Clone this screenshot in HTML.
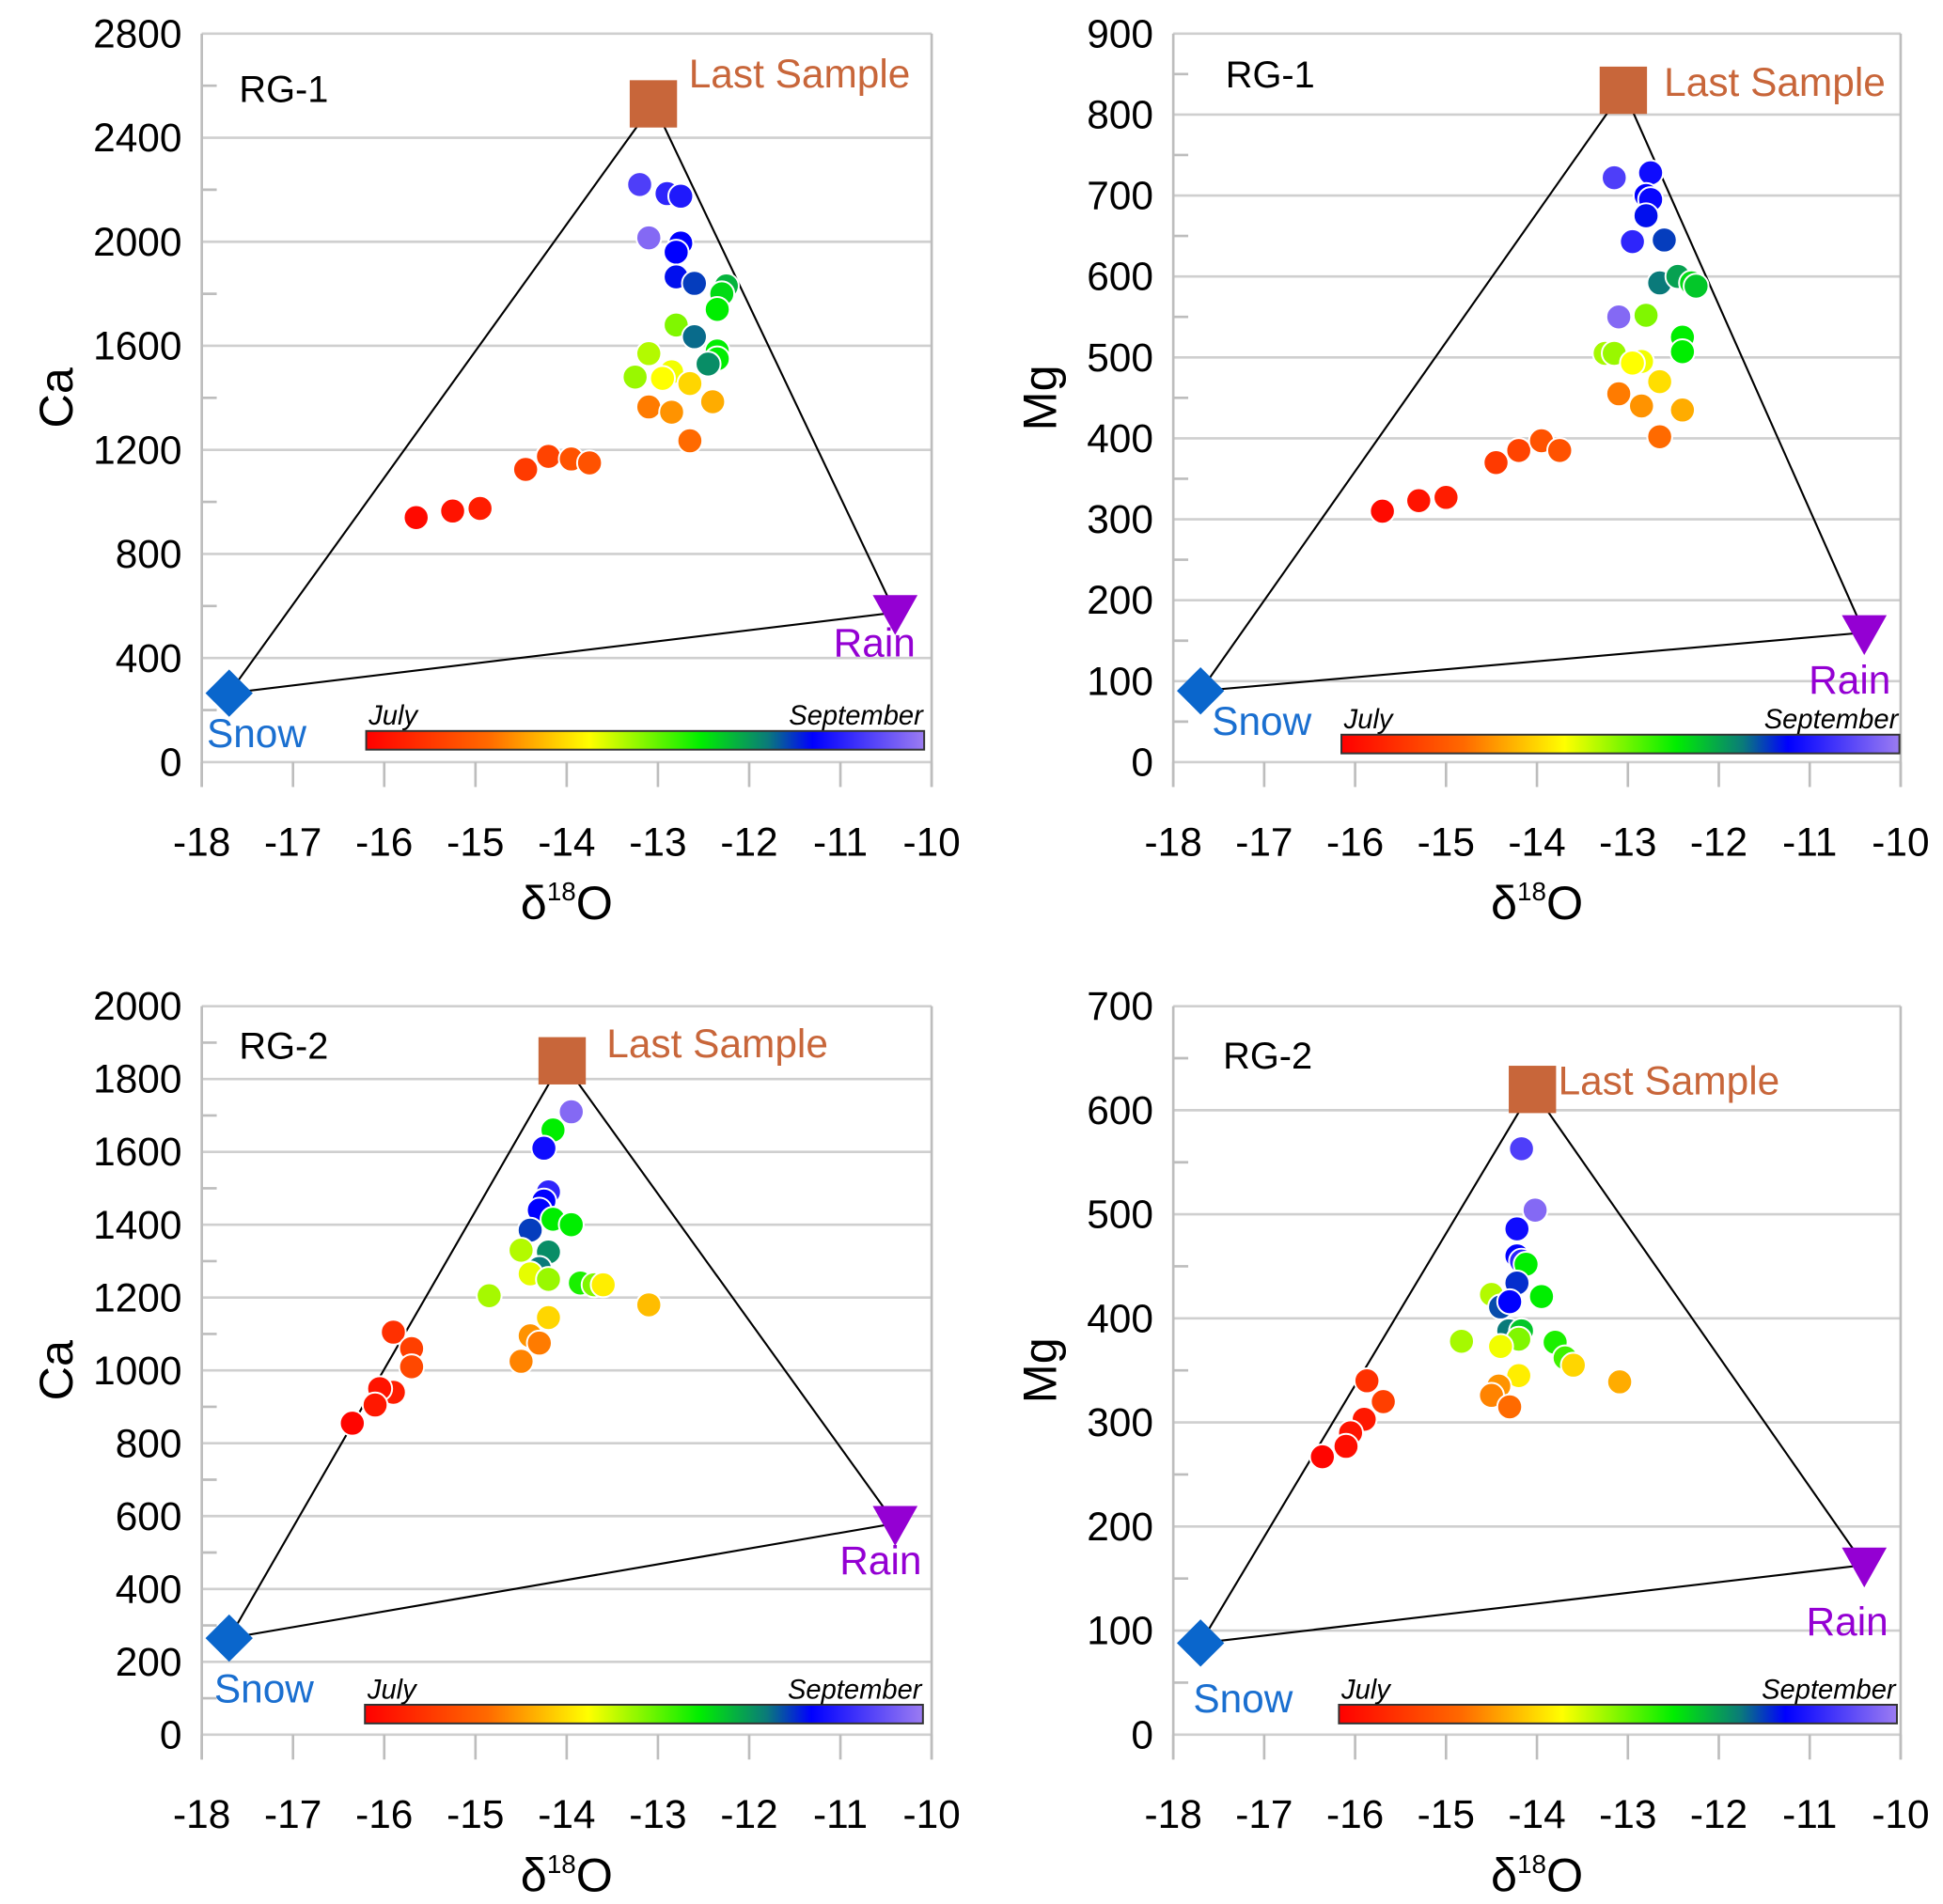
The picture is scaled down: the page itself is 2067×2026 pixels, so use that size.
<!DOCTYPE html>
<html><head><meta charset="utf-8"><style>
html,body{margin:0;padding:0;background:#fff;}
svg{display:block;font-family:"Liberation Sans","DejaVu Sans",sans-serif;}
</style></head><body>
<svg id="fig" width="2067" height="2026" viewBox="0 0 1560 1529" preserveAspectRatio="none" xmlns="http://www.w3.org/2000/svg">
<defs>
<linearGradient id="cmap" x1="0" x2="1" y1="0" y2="0">
<stop offset="0" stop-color="#ff0000"/><stop offset="0.22" stop-color="#ff6a00"/><stop offset="0.4" stop-color="#ffff00"/><stop offset="0.6" stop-color="#00ee00"/><stop offset="0.72" stop-color="#0a7a7a"/><stop offset="0.8" stop-color="#0000ff"/><stop offset="1" stop-color="#9b7cf2"/>
</linearGradient>
</defs>
</svg>
<script>
// Panel 1: RG-1 Ca
const p1X=[-13.2,-12.9,-12.75,-13.1,-12.75,-12.8,-12.8,-12.6,-12.25,-12.3,-12.35,-12.8,-12.6,-12.35,-12.35,-12.45,-13.1,-13.25,-12.85,-12.95,-12.65,-12.4,-13.1,-12.85,-12.65,-14.45,-14.2,-13.95,-13.75,-15.65,-15.25,-14.95];
const p1Y=[2220,2185,2175,2015,1995,1960,1865,1840,1830,1800,1740,1680,1635,1580,1550,1530,1570,1480,1500,1475,1455,1385,1365,1345,1235,1125,1175,1165,1150,940,965,975];
const p1T=[0.9,0.86,0.84,0.97,0.8,0.8,0.79,0.76,0.66,0.62,0.6,0.5,0.73,0.6,0.6,0.7,0.46,0.48,0.41,0.4,0.35,0.3,0.24,0.27,0.22,0.12,0.14,0.17,0.17,0.02,0.04,0.06];
// Panel 2: RG-1 Mg
const p2X=[-13.15,-12.75,-12.8,-12.75,-12.8,-12.6,-12.95,-12.65,-12.45,-12.3,-12.25,-12.8,-13.1,-12.4,-12.4,-13.25,-13.15,-12.85,-12.95,-12.65,-13.1,-12.4,-12.85,-12.65,-14.45,-14.2,-13.95,-13.75,-15.7,-15.3,-15.0];
const p2Y=[722,728,700,695,675,645,643,592,600,592,588,552,550,525,507,505,505,495,493,470,455,435,440,402,370,385,397,385,310,323,327];
const p2T=[0.9,0.82,0.8,0.81,0.79,0.76,0.86,0.72,0.68,0.62,0.64,0.5,0.97,0.6,0.6,0.47,0.48,0.41,0.4,0.36,0.24,0.3,0.27,0.22,0.12,0.14,0.17,0.17,0.02,0.04,0.06];
// Panel 3: RG-2 Ca
const p3X=[-13.95,-14.15,-14.25,-14.2,-14.25,-14.3,-14.4,-14.15,-13.95,-14.2,-14.5,-14.3,-14.4,-14.2,-13.85,-13.7,-13.6,-14.85,-13.1,-14.2,-14.4,-14.3,-14.5,-15.9,-15.7,-15.7,-15.9,-16.05,-16.1,-16.35];
const p3Y=[1710,1660,1610,1490,1465,1440,1385,1415,1400,1325,1330,1280,1265,1250,1240,1235,1235,1205,1180,1145,1095,1075,1025,1105,1060,1010,940,950,905,855];
const p3T=[0.97,0.6,0.82,0.86,0.8,0.8,0.76,0.6,0.6,0.7,0.46,0.72,0.42,0.48,0.58,0.5,0.38,0.47,0.32,0.35,0.27,0.24,0.25,0.1,0.13,0.15,0.06,0.04,0.05,0.01];
// Panel 4: RG-2 Mg
const p4X=[-14.17,-14.02,-14.22,-14.22,-14.17,-14.12,-14.22,-14.5,-13.95,-14.4,-14.3,-14.31,-14.17,-14.2,-14.83,-14.4,-13.8,-13.69,-13.6,-13.09,-14.2,-14.42,-14.5,-14.3,-15.87,-15.69,-15.9,-16.05,-16.1,-16.36];
const p4Y=[563,504,486,460,455,452,434,423,421,411,416,388,388,380,378,373,377,362,355,339,345,335,326,315,340,320,303,290,277,267];
const p4T=[0.9,0.97,0.82,0.8,0.86,0.6,0.77,0.46,0.6,0.75,0.8,0.72,0.64,0.5,0.47,0.41,0.58,0.55,0.35,0.3,0.38,0.27,0.25,0.22,0.1,0.13,0.05,0.04,0.03,0.01];
// End members [snow, last, rain]
const endX1=[-17.7,-13.05,-10.4], endY1=[265,2530,575];
const endX2=[-17.7,-13.05,-10.4], endY2=[88,830,160];
const endX3=[-17.7,-14.05,-10.4], endY3=[265,1850,580];
const endX4=[-17.7,-14.05,-10.4], endY4=[88,620,163];
const xTicks=[-18,-17,-16,-15,-14,-13,-12,-11,-10];

const NS="http://www.w3.org/2000/svg";
const svg=document.getElementById('fig');
function mk(tag,attrs,parent){const e=document.createElementNS(NS,tag);for(const k in attrs)e.setAttribute(k,attrs[k]);(parent||svg).appendChild(e);return e;}
const stops=[[0,[255,0,0]],[0.22,[255,106,0]],[0.4,[255,255,0]],[0.6,[0,238,0]],[0.72,[10,122,122]],[0.8,[0,0,255]],[1,[155,124,242]]];
function cmap(t){for(let i=1;i<stops.length;i++){if(t<=stops[i][0]){const a=stops[i-1],b=stops[i];const f=(t-a[0])/(b[0]-a[0]);const c=a[1].map((v,j)=>Math.round(v+(b[1][j]-v)*f));return `rgb(${c})`;}}return 'rgb(155,124,242)';}

const panels=[
 {L:162,R:748,T:27,B:612,ymax:2800,ystep:400,ylab:'Ca',tag:'RG-1',xs:p1X,ys:p1Y,ts:p1T,ex:endX1,ey:endY1,tagPos:[192,82],lsPos:[553,70],rainPos:[735,527],snowPos:[166,600],cb:[294,587],ylabX:45,name:'rg1-ca'},
 {L:942,R:1526,T:27,B:612,ymax:900,ystep:100,ylab:'Mg',tag:'RG-1',xs:p2X,ys:p2Y,ts:p2T,ex:endX2,ey:endY2,tagPos:[984,70],lsPos:[1336,77],rainPos:[1518,557],snowPos:[973,590],cb:[1077,590],ylabX:835,name:'rg1-mg'},
 {L:162,R:748,T:808,B:1393,ymax:2000,ystep:200,ylab:'Ca',tag:'RG-2',xs:p3X,ys:p3Y,ts:p3T,ex:endX3,ey:endY3,tagPos:[192,850],lsPos:[487,849],rainPos:[740,1264],snowPos:[172,1367],cb:[293,1369],ylabX:45,name:'rg2-ca'},
 {L:942,R:1526,T:808,B:1393,ymax:700,ystep:100,ylab:'Mg',tag:'RG-2',xs:p4X,ys:p4Y,ts:p4T,ex:endX4,ey:endY4,tagPos:[982,858],lsPos:[1251,879],rainPos:[1516,1313],snowPos:[958,1375],cb:[1075,1369],ylabX:835,name:'rg2-mg'}
];

panels.forEach(p=>{
 const g=mk('g',{});
 
 
 const sx=v=>p.L+(v+18)/8*(p.R-p.L);
 const sy=v=>p.B-v/p.ymax*(p.B-p.T);
 for(let v=0;v<=p.ymax+1e-9;v+=p.ystep){
  const y=sy(v);
  const gl=mk('line',{x1:p.L,x2:p.R,y1:y,y2:y,stroke:'#cfcfcf','stroke-width':2},g);
  
  
  const t=mk('text',{x:p.L-16,y:y+11,'text-anchor':'end','font-size':32,fill:'#000'},g);
  t.textContent=v;
  
  
  if(v<p.ymax){const ym=sy(v+p.ystep/2);mk('line',{x1:p.L,x2:p.L+12,y1:ym,y2:ym,stroke:'#bdbdbd','stroke-width':2},g);}
 }
 mk('line',{x1:p.L,x2:p.L,y1:p.T,y2:p.B+20,stroke:'#bdbdbd','stroke-width':2},g);
 mk('line',{x1:p.R,x2:p.R,y1:p.T,y2:p.B+20,stroke:'#bdbdbd','stroke-width':2},g);
 xTicks.forEach(v=>{
  const x=sx(v);
  mk('line',{x1:x,x2:x,y1:p.B,y2:p.B+20,stroke:'#bdbdbd','stroke-width':2},g);
  const t=mk('text',{x:x,y:p.B+75,'text-anchor':'middle','font-size':32,fill:'#000'},g);
  t.textContent=v;
  
  
 });
 const yt=mk('text',{x:p.ylabX,y:(p.T+p.B)/2,'text-anchor':'middle','font-size':38,transform:`rotate(-90 ${p.ylabX} ${(p.T+p.B)/2}) translate(0 13)`},g);
 yt.textContent=p.ylab;
 
 
 const xt=mk('text',{x:(p.L+p.R)/2,y:p.B+126,'text-anchor':'middle','font-size':38},g);
 xt.innerHTML='δ<tspan font-size="21" dy="-15">18</tspan><tspan dy="15">O</tspan>';
 
 
 const tg=mk('text',{x:p.tagPos[0],y:p.tagPos[1],'font-size':30},g);
 tg.textContent=p.tag;
 
 
 const cb=mk('rect',{x:p.cb[0],y:p.cb[1],width:448,height:15,fill:'url(#cmap)',stroke:'#333','stroke-width':1.5},g);
 
 
 const jl=mk('text',{x:p.cb[0]+2,y:p.cb[1]-5,'font-size':22,'font-style':'italic'},g);
 jl.textContent='July';
 
 
 const sl=mk('text',{x:p.cb[0]+447,y:p.cb[1]-5,'font-size':22,'font-style':'italic','text-anchor':'end'},g);
 sl.textContent='September';
 
 
 const px=p.ex.map(sx), py=p.ey.map(sy);
 const tri=mk('polygon',{points:`${px[0]},${py[0]} ${px[1]},${py[1]} ${px[2]},${py[2]}`,fill:'none',stroke:'#000','stroke-width':1.6},g);
 
 
 p.xs.forEach((v,i)=>{
  const c=mk('circle',{cx:sx(v),cy:sy(p.ys[i]),r:10,fill:cmap(p.ts[i]),stroke:'#fff','stroke-width':1.5},g);
  
  
 });
 const d=mk('polygon',{points:`${px[0]},${py[0]-19} ${px[0]+19},${py[0]} ${px[0]},${py[0]+19} ${px[0]-19},${py[0]}`,fill:'#0a66cc'},g);
 
 
 const s=mk('rect',{x:px[1]-19,y:py[1]-19,width:38,height:38,fill:'#c8663a'},g);
 
 
 const r=mk('polygon',{points:`${px[2]-18},${py[2]-14} ${px[2]+18},${py[2]-14} ${px[2]},${py[2]+18}`,fill:'#9400d3'},g);
 
 
 const ls=mk('text',{x:p.lsPos[0],y:p.lsPos[1],'font-size':32,fill:'#c8663a'},g);
 ls.textContent='Last Sample';
 
 
 const rl=mk('text',{x:p.rainPos[0],y:p.rainPos[1],'font-size':32,fill:'#9400d3','text-anchor':'end'},g);
 rl.textContent='Rain';
 
 
 const sn=mk('text',{x:p.snowPos[0],y:p.snowPos[1],'font-size':32,fill:'#1a6fd0'},g);
 sn.textContent='Snow';
 
 
});
</script>
</body></html>
